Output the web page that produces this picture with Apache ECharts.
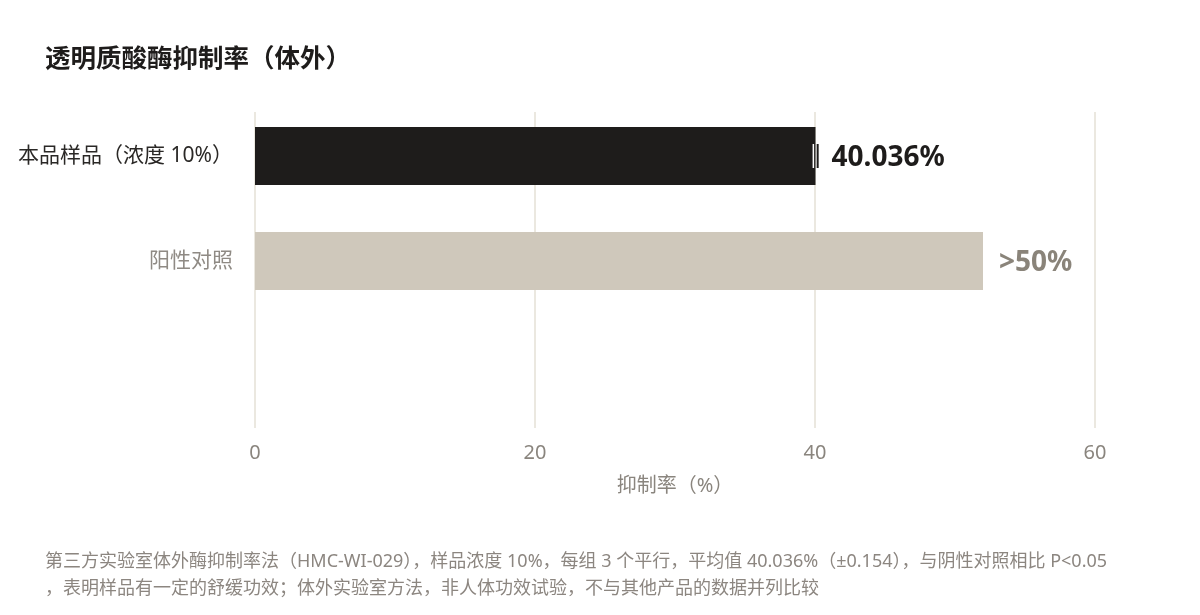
<!DOCTYPE html>
<html>
<head>
<meta charset="utf-8">
<script src="https://cdn.jsdelivr.net/npm/echarts@6/dist/echarts.min.js"></script>
<style>
    html, body { margin: 0; padding: 0; background: #fff; }
    #chart { width: 1200px; height: 615px; }
</style>
</head>
<body>
<div id="chart"></div>
<script>
// 数据
const categories = ['本品样品（浓度 10%）', '阳性对照'];
const values = [40.036, 52];
const valueLabels = ['40.036%', '>50%'];
const errorValue = 0.154;   // 标准差，只在本品样品上
const xTicks = [0, 20, 40, 60];

const FONT = '"Noto Sans", "Noto Sans CJK SC", sans-serif';
const barColors = ['#1e1c1b', '#cfc8bb'];
const labelColors = ['#1e1c1b', '#8a847a'];
const catColors = ['#2a2826', '#8f8a84'];

var myChart = echarts.init(document.getElementById('chart'));

var option = {
    animation: false,
    textStyle: { fontFamily: FONT },
    title: {
        text: '透明质酸酶抑制率（体外）',
        left: 40,
        top: 42,
        textStyle: { fontFamily: FONT, fontSize: 25.5, fontWeight: 'bold', color: '#1e1c1b' }
    },
    grid: [
        // 网格线和刻度
        { left: 255, right: 105, top: 112, bottom: 187 },
        // 柱子
        { left: 255, right: 105, top: 103.5, height: 210 }
    ],
    xAxis: [{
        gridIndex: 0,
        type: 'value',
        min: xTicks[0],
        max: xTicks[xTicks.length - 1],
        interval: xTicks[1] - xTicks[0],
        axisLine: { show: false },
        axisTick: { show: false },
        splitLine: { lineStyle: { color: '#e4e0d6', width: 1.5 } },
        axisLabel: { color: '#8a857e', fontSize: 20, margin: 15, fontFamily: FONT },
        name: '抑制率（%）',
        nameLocation: 'middle',
        nameGap: 48,
        nameTextStyle: { color: '#8a857e', fontSize: 20, fontFamily: FONT }
    }, {
        gridIndex: 1,
        type: 'value',
        min: xTicks[0],
        max: xTicks[xTicks.length - 1],
        show: false
    }],
    yAxis: [{
        gridIndex: 0,
        type: 'category',
        data: [],
        show: false
    }, {
        gridIndex: 1,
        type: 'category',
        inverse: true,
        data: categories,
        axisLine: { show: false },
        axisTick: { show: false },
        axisLabel: {
            margin: 22,
            fontSize: 21,
            formatter: function (v, i) {
                return '{c' + i + '|' + v + '}';
            },
            rich: {
                c0: { color: catColors[0], fontSize: 21, fontFamily: FONT },
                c1: { color: catColors[1], fontSize: 21, fontFamily: FONT }
            }
        }
    }],
    series: [{
        type: 'bar',
        xAxisIndex: 1,
        yAxisIndex: 1,
        barWidth: 58,
        data: values.map((v, i) => ({
            value: v,
            itemStyle: { color: barColors[i] },
            label: { color: labelColors[i] }
        })),
        label: {
            show: true,
            position: 'right',
            distance: 16,
            fontSize: 28,
            fontWeight: 'bold',
            fontFamily: FONT,
            offset: [0, 2],
            formatter: p => valueLabels[p.dataIndex]
        }
    }, {
        // 误差线
        type: 'custom',
        xAxisIndex: 1,
        yAxisIndex: 1,
        z: 5,
        data: [[values[0], 0, errorValue]],
        renderItem: function (params, api) {
            const v = api.value(0), c = api.value(1), e = api.value(2);
            const lo = api.coord([v - e, c]);
            const hi = api.coord([v + e, c]);
            const h = 12;
            return {
                type: 'group',
                children: [{
                    type: 'line',
                    shape: { x1: lo[0], y1: lo[1] - h, x2: lo[0], y2: lo[1] + h },
                    style: { stroke: '#ffffff', lineWidth: 1.5 }
                }, {
                    type: 'line',
                    shape: { x1: hi[0], y1: hi[1] - h, x2: hi[0], y2: hi[1] + h },
                    style: { stroke: '#1e1c1b', lineWidth: 2 }
                }]
            };
        }
    }],
    graphic: [{
        type: 'text',
        left: 45,
        top: 548,
        style: {
            text: '第三方实验室体外酶抑制率法（HMC-WI-029），样品浓度 10%，每组 3 个平行，平均值 40.036%（±0.154），与阴性对照相比 P<0.05\n，表明样品有一定的舒缓功效；体外实验室方法，非人体功效试验，不与其他产品的数据并列比较',
            fontSize: 18,
            lineHeight: 27,
            fill: '#8c8680',
            fontFamily: FONT
        }
    }]
};

myChart.setOption(option);
</script>
</body>
</html>
